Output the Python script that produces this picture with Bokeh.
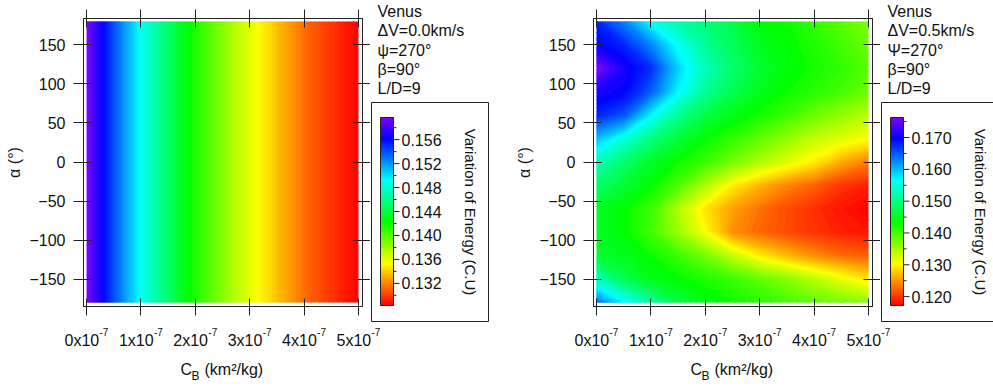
import colorsys
import math

import numpy as np
from bokeh.core.properties import value
from bokeh.embed import file_html
from bokeh.layouts import column, row
from bokeh.models import FixedTicker, LinearAxis, LinearColorMapper, Range1d
from bokeh.plotting import figure
from bokeh.resources import INLINE

FONT = "Liberation Sans"

# ---------------------------------------------------------------- data
# ballistic coefficient C_B, in units of 1e-7 km^2/kg
cb_ticks = [0, 1, 2, 3, 4, 5]
cb_tick_base = ["0x10", "1x10", "2x10", "3x10", "4x10", "5x10"]
cb_tick_exp = ["-7", "-7", "-7", "-7", "-7", "-7"]
alpha_ticks = [-150, -100, -50, 0, 50, 100, 150]

# Delta V = 0.0 km/s : energy variation depends on C_B only
cb_fine = [0.0, 0.25, 0.5, 0.75, 1.0, 1.25, 1.5, 1.75, 2.0, 2.25, 2.5,
           2.75, 3.0, 3.25, 3.5, 3.75, 4.0, 4.25, 4.5, 4.75, 5.0]
energy_dv0 = [0.1597, 0.1568, 0.1541, 0.1515, 0.1490, 0.1470, 0.1450,
              0.1432, 0.1415, 0.1400, 0.1386, 0.1372, 0.1360, 0.1348,
              0.1336, 0.1325, 0.1313, 0.1305, 0.1297, 0.1290, 0.1283]
alpha_span = [-180, 180]

# Delta V = 0.5 km/s : energy variation over (alpha, C_B)
cb_grid = [0.0, 0.5, 1.0, 1.5, 2.0, 2.5, 3.0, 3.5, 4.0, 4.5, 5.0]
alpha_grid = [180, 150, 120, 90, 60, 30, 0, -30, -60, -90, -120, -150, -180]
energy_dv05 = [
    [0.1680, 0.1630, 0.1560, 0.1520, 0.1500, 0.1470, 0.1440, 0.1430, 0.1410, 0.1390, 0.1370],
    [0.1700, 0.1680, 0.1630, 0.1560, 0.1510, 0.1480, 0.1450, 0.1435, 0.1420, 0.1400, 0.1380],
    [0.1763, 0.1710, 0.1675, 0.1590, 0.1530, 0.1490, 0.1460, 0.1440, 0.1425, 0.1410, 0.1390],
    [0.1710, 0.1700, 0.1650, 0.1570, 0.1510, 0.1475, 0.1450, 0.1430, 0.1415, 0.1400, 0.1380],
    [0.1680, 0.1655, 0.1570, 0.1510, 0.1470, 0.1445, 0.1425, 0.1405, 0.1380, 0.1360, 0.1340],
    [0.1600, 0.1550, 0.1500, 0.1465, 0.1435, 0.1410, 0.1385, 0.1360, 0.1335, 0.1320, 0.1305],
    [0.1530, 0.1490, 0.1455, 0.1430, 0.1405, 0.1375, 0.1345, 0.1320, 0.1295, 0.1260, 0.1235],
    [0.1490, 0.1460, 0.1435, 0.1395, 0.1345, 0.1295, 0.1265, 0.1240, 0.1222, 0.1198, 0.1188],
    [0.1455, 0.1435, 0.1405, 0.1345, 0.1290, 0.1255, 0.1230, 0.1210, 0.1195, 0.1182, 0.1172],
    [0.1455, 0.1435, 0.1400, 0.1355, 0.1305, 0.1245, 0.1225, 0.1210, 0.1198, 0.1188, 0.1182],
    [0.1460, 0.1450, 0.1430, 0.1405, 0.1375, 0.1335, 0.1295, 0.1268, 0.1245, 0.1228, 0.1220],
    [0.1530, 0.1475, 0.1445, 0.1435, 0.1420, 0.1405, 0.1385, 0.1365, 0.1340, 0.1315, 0.1290],
    [0.1640, 0.1570, 0.1520, 0.1470, 0.1445, 0.1430, 0.1415, 0.1400, 0.1385, 0.1375, 0.1365],
]

# colour-bar ticks
cbar1_major = [0.132, 0.136, 0.140, 0.144, 0.148, 0.152, 0.156]
cbar1_minor = [0.130, 0.134, 0.138, 0.142, 0.146, 0.150, 0.154, 0.158]
cbar2_major = [0.120, 0.130, 0.140, 0.150, 0.160, 0.170]
cbar2_minor = [0.125, 0.135, 0.145, 0.155, 0.165, 0.175]

notes1 = ["Venus", "ΔV=0.0km/s", "ψ=270°", "β=90°", "L/D=9"]
notes2 = ["Venus", "ΔV=0.5km/s", "Ψ=270°", "β=90°", "L/D=9"]
cbar_title = "Variation of Energy (C.U)"
x_title = ["C", "B", "(km²/kg)"]
y_title = "α (°)"

# ---------------------------------------------------------------- styling
# rainbow palette: red (low) -> yellow -> green -> cyan -> blue -> violet (high)
PALETTE = []
for i in range(256):
    r, g, b = colorsys.hsv_to_rgb((270.0 * i / 255.0) / 360.0, 1.0, 1.0)
    PALETTE.append("#%02x%02x%02x" % (int(round(r * 255)), int(round(g * 255)), int(round(b * 255))))

N_BANDS = 120      # colour bands of the filled map

INK = "#111111"
LINE = "#222222"
H = 387            # page height
SPLIT = 323        # height of the upper (plot + legend) strip
MAIN_W = 370
FRAME_L, FRAME_R, FRAME_T, FRAME_B = 83, 362, 18, 306
DATA_L, DATA_R, DATA_T, DATA_B = 86, 358, 21, 302
BAR_TOP, BAR_BOTTOM = 117, 305


def pal_color(v, vmin, vmax):
    t = (v - vmin) / (vmax - vmin)
    return PALETTE[int(round(min(max(t, 0.0), 1.0) * (len(PALETTE) - 1)))]


def base_fig(**kw):
    f = figure(title=None, toolbar_location=None, output_backend="svg", frame_align=False, **kw)
    f.grid.visible = False
    f.background_fill_color = "white"
    f.border_fill_color = "white"
    return f


def blank_axis(ticks, tin, tout):
    return LinearAxis(ticker=FixedTicker(ticks=ticks), major_tick_in=tin, major_tick_out=tout,
                      minor_tick_in=0, minor_tick_out=0,
                      major_label_overrides={t: "" for t in ticks},
                      major_label_text_font_size="1px", major_label_standoff=0,
                      axis_line_color=LINE, major_tick_line_color=LINE)


def main_panel(xs_nodes, ys_nodes, z, vmin, vmax):
    x0, x1 = xs_nodes[0], xs_nodes[-1]
    y0, y1 = ys_nodes[0], ys_nodes[-1]
    xs = (x1 - x0) / (DATA_R - DATA_L)
    ys = (y1 - y0) / (DATA_B - DATA_T)
    xr = Range1d(x0 - (DATA_L - FRAME_L) * xs, x1 + (FRAME_R - DATA_R) * xs)
    yr = Range1d(y0 - (FRAME_B - DATA_B) * ys, y1 + (DATA_T - FRAME_T) * ys)
    p = base_fig(width=MAIN_W, height=SPLIT, x_range=xr, y_range=yr,
                 min_border_left=FRAME_L, min_border_right=MAIN_W - FRAME_R,
                 min_border_top=FRAME_T, min_border_bottom=SPLIT - FRAME_B)
    p.outline_line_color = LINE

    # filled energy map: many narrow bands give a continuous rainbow shading
    eps = (vmax - vmin) * 1e-4
    levels = np.linspace(vmin - eps, vmax + eps, N_BANDS + 1)
    mids = 0.5 * (levels[:-1] + levels[1:])
    p.contour(x=xs_nodes, y=ys_nodes, z=z, levels=levels,
              fill_color=[pal_color(m, vmin, vmax) for m in mids],
              line_color=[pal_color(l, vmin, vmax) for l in levels], line_width=1.2)

    xa = p.xaxis[0]
    xa.ticker = FixedTicker(ticks=cb_ticks)
    xa.major_tick_in = 8
    xa.major_tick_out = 9
    xa.minor_tick_in = 0
    xa.minor_tick_out = 0
    xa.major_label_overrides = {t: "" for t in cb_ticks}
    xa.major_label_text_font_size = "1px"
    xa.major_label_standoff = 0
    xa.axis_line_color = LINE
    xa.major_tick_line_color = LINE

    ya = p.yaxis[0]
    ya.ticker = FixedTicker(ticks=alpha_ticks)
    ya.major_tick_in = 8
    ya.major_tick_out = 10
    ya.minor_tick_in = 0
    ya.minor_tick_out = 0
    ya.major_label_text_font = FONT
    ya.major_label_text_font_size = "16px"
    ya.major_label_text_color = INK
    ya.major_label_standoff = 8
    ya.axis_line_color = LINE
    ya.major_tick_line_color = LINE
    ya.axis_label = y_title
    ya.axis_label_text_font_style = "normal"
    ya.axis_label_text_font_size = "16px"
    ya.axis_label_text_font = FONT
    ya.axis_label_text_color = INK
    ya.axis_label_standoff = 3

    p.add_layout(blank_axis(cb_ticks, 9, 9), "above")
    p.add_layout(blank_axis(alpha_ticks, 9, 8), "right")
    return p, xs


def below_panel(width, x0, xs):
    # strip under the plot: C_B tick labels with exponents, and the axis title
    xr = Range1d(x0 - DATA_L * xs, x0 + (width - DATA_L) * xs)
    b = base_fig(width=width, height=H - SPLIT, x_range=xr, y_range=Range1d(H, SPLIT),
                 x_axis_type=None, y_axis_type=None, min_border=0)
    b.outline_line_color = None
    n = len(cb_ticks)
    b.text(x=cb_ticks, y=[340] * n, text=cb_tick_base, x_offset=-22,
           text_font=value(FONT), text_font_size="16px", text_baseline="middle",
           text_align="left", text_color=INK)
    b.text(x=cb_ticks, y=[331] * n, text=cb_tick_exp, x_offset=13,
           text_font=value(FONT), text_font_size="10px", text_baseline="middle",
           text_align="left", text_color=INK)
    xmid = 0.5 * (cb_ticks[0] + cb_ticks[-1])
    b.text(x=[xmid] * 3, y=[369, 375, 369], text=x_title, x_offset=[-42, -31, -18],
           text_font=value(FONT), text_font_size=["16px", "12px", "16px"],
           text_baseline="middle", text_align="left", text_color=INK)
    return b


def side_panel(width, notes, vmin, vmax, major, minor):
    k = (vmax - vmin) / (BAR_BOTTOM - BAR_TOP)

    def ey(py):
        return vmax - (py - BAR_TOP) * k

    s = base_fig(width=width, height=SPLIT, x_range=Range1d(0, width),
                 y_range=Range1d(ey(SPLIT), ey(0)),
                 x_axis_type=None, y_axis_type=None, min_border=0)
    s.outline_line_color = None

    s.text(x=[7] * len(notes), y=[ey(py) for py in (11, 30, 50, 69, 88)], text=notes,
           text_font=value(FONT), text_font_size="16px", text_baseline="middle",
           text_color=INK)

    # legend box
    s.quad(left=1, right=118, top=ey(102), bottom=ey(321), fill_color=None,
           line_color=LINE, line_width=1)

    # colour strip with its scale
    mapper = LinearColorMapper(palette=PALETTE, low=vmin, high=vmax)
    strip = np.linspace(vmin, vmax, 256).reshape(256, 1)
    s.image(image=[strip], x=10, y=vmin, dw=13, dh=vmax - vmin, color_mapper=mapper)
    s.quad(left=10, right=23, top=vmax, bottom=vmin, fill_color=None,
           line_color=LINE, line_width=1)
    s.segment(x0=[23] * len(major), y0=major, x1=[29] * len(major), y1=major,
              line_color=LINE, line_width=1)
    s.segment(x0=[23] * len(minor), y0=minor, x1=[26] * len(minor), y1=minor,
              line_color=LINE, line_width=1)
    s.text(x=[31] * len(major), y=major, text=["%.3f" % v for v in major],
           text_font=value(FONT), text_font_size="16px", text_baseline="middle",
           text_color=INK)
    s.text(x=[100], y=[ey(211.5)], text=[cbar_title], angle=-math.pi / 2,
           text_font=value(FONT), text_font_size="15px", text_baseline="middle",
           text_align="center", text_color=INK)
    return s


def panel(xs_nodes, ys_nodes, z, side_w, notes, major, minor):
    vmin, vmax = float(z.min()), float(z.max())
    p, xs = main_panel(xs_nodes, ys_nodes, z, vmin, vmax)
    s = side_panel(side_w, notes, vmin, vmax, major, minor)
    b = below_panel(MAIN_W + side_w, xs_nodes[0], xs)
    return column(row(p, s, spacing=0), b, spacing=0)


# panel 1: the same C_B profile at both ends of the alpha range
z1 = np.array([energy_dv0, energy_dv0], dtype=float)
left = panel(cb_fine, alpha_span, z1, 140, notes1, cbar1_major, cbar1_minor)

# panel 2: rows stored from alpha=+180 down to -180, flipped to ascending alpha
z2 = np.array(energy_dv05, dtype=float)[::-1]
right = panel(cb_grid, alpha_grid[::-1], z2, 113, notes2, cbar2_major, cbar2_minor)

layout = row(left, right, spacing=0)

with open("out.html", "w") as f:
    f.write(file_html(layout, INLINE))
